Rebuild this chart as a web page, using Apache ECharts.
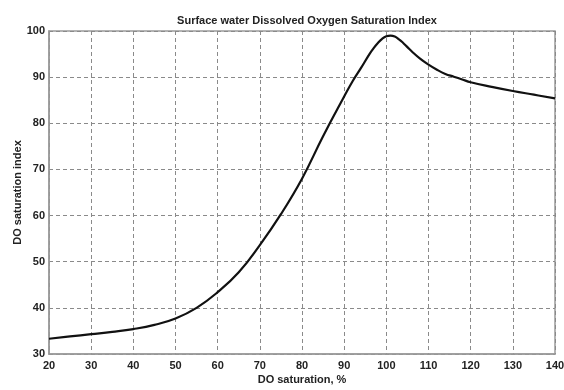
<!DOCTYPE html>
<html><head><meta charset="utf-8">
<script src="https://cdn.jsdelivr.net/npm/echarts@6/dist/echarts.min.js"></script>
<style>html,body{margin:0;padding:0;background:#fff}#c{width:564px;height:390px}</style>
</head><body><div id="c"></div>
<script>
const titleText = 'Surface water Dissolved Oxygen Saturation Index';
const xName = 'DO saturation, %';
const yName = 'DO saturation index';
const doSaturation = [20, 25, 30, 35, 40, 45, 50, 55, 60, 65, 70, 75, 80, 85, 90, 92, 94, 96, 97, 98, 99, 100, 101, 102, 103, 104, 105, 106, 108, 110, 112, 114, 116, 118, 120, 125, 130, 135, 140];
const doIndex = [33.3, 33.8, 34.3, 34.8, 35.4, 36.3, 37.7, 40.0, 43.4, 47.7, 53.6, 60.3, 68.0, 77.2, 85.8, 89.1, 92.0, 95.0, 96.3, 97.4, 98.3, 98.85, 99.0, 98.8, 98.2, 97.4, 96.5, 95.6, 94.0, 92.7, 91.6, 90.7, 90.1, 89.5, 88.9, 87.9, 87.0, 86.2, 85.4];

const chart = echarts.init(document.getElementById('c'), null, {renderer: 'canvas'});
const font = 'Liberation Sans, Arial, sans-serif';
const labelStyle = {color: '#222', fontSize: 11, fontWeight: 'bold', fontFamily: font};
const gridLine = {show: true, lineStyle: {color: '#8a8a8a', type: [4, 3], width: 1}};
chart.setOption({
  animation: false,
  backgroundColor: '#fff',
  title: {text: titleText, left: 302, top: 10, textAlign: 'center',
    textStyle: {fontSize: 11, fontWeight: 'bold', color: '#222', fontFamily: font}},
  grid: {left: 49, right: 9, top: 31, bottom: 36, containLabel: false, outerBoundsMode: 'none',
    show: true, borderColor: '#9a9a9a', borderWidth: 1.5},
  xAxis: {type: 'value', min: 20, max: 140, interval: 10,
    name: xName, nameLocation: 'middle', nameGap: 20, nameMoveOverlap: false,
    nameTextStyle: {color: '#222', fontSize: 11, fontWeight: 'bold', fontFamily: font},
    axisLine: {show: true, lineStyle: {color: '#9a9a9a', width: 1.5}},
    axisTick: {show: false},
    axisLabel: Object.assign({margin: 6}, labelStyle),
    splitLine: gridLine},
  yAxis: {type: 'value', min: 30, max: 100, interval: 10,
    name: yName, nameLocation: 'middle', nameGap: 26, nameMoveOverlap: false,
    nameTextStyle: {color: '#222', fontSize: 11, fontWeight: 'bold', fontFamily: font},
    axisLine: {show: true, lineStyle: {color: '#9a9a9a', width: 1.5}},
    axisTick: {show: false},
    axisLabel: Object.assign({margin: 4}, labelStyle),
    splitLine: gridLine},
  series: [{type: 'line', data: doSaturation.map((x, i) => [x, doIndex[i]]),
    smooth: 0.45, showSymbol: false, lineStyle: {color: '#111', width: 2.2}}]
});
</script></body></html>
